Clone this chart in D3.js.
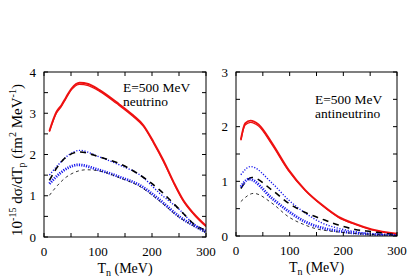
<!DOCTYPE html>
<html><head><meta charset="utf-8">
<script src="https://cdn.jsdelivr.net/npm/d3@7"></script>
<style>body{margin:0;background:#fff}svg text{font-family:"Liberation Serif","DejaVu Serif",serif;fill:#000}</style>
</head><body><svg id="c" width="415" height="278"></svg>
<script>
// ---- data (T in MeV, value in 10^-15 fm^2/MeV) ----
const xTicks = [0, 100, 200, 300];
const yTicksNu = [0, 1, 2, 3, 4];
const yTicksAnu = [0, 1, 2, 3];

const nuRedA = [[10,2.57],[23,3.03],[32,3.19],[41,3.39],[51,3.6],[66,3.74],[82,3.71],[103,3.56],[134,3.27],[165,2.95],[184,2.71],[203,2.30],[221,1.86],[240,1.33],[258,0.89],[277,0.57],[300,0.27]];
const nuRedB = [[10,2.55],[23,3.0],[32,3.16],[41,3.36],[51,3.57],[66,3.70],[82,3.67],[103,3.53],[134,3.24],[165,2.92],[184,2.68],[203,2.27],[221,1.83],[240,1.31],[258,0.87],[277,0.55],[300,0.25]];
const nuBlueThin = [[10,1.5],[30,1.8],[45,1.98],[66,2.1],[103,1.94],[141,1.74],[178,1.50],[215,1.05],[252,0.65],[277,0.32],[300,0.16]];
const nuBlackLong = [[10,1.37],[25,1.7],[41,1.94],[66,2.06],[103,1.94],[141,1.77],[178,1.50],[215,1.13],[240,0.81],[258,0.57],[277,0.32],[300,0.16]];
const nuBlueThick = [[10,1.29],[30,1.55],[45,1.68],[63,1.75],[103,1.62],[141,1.45],[178,1.25],[215,0.89],[252,0.48],[277,0.28],[300,0.12]];
const nuBlackShort = [[10,1.01],[25,1.25],[41,1.45],[79,1.63],[103,1.60],[141,1.43],[178,1.22],[215,0.86],[252,0.46],[277,0.27],[300,0.11]];

const anuRedA = [[9,1.76],[17,2.06],[27,2.11],[42,2.04],[67,1.70],[98,1.21],[129,0.84],[160,0.57],[191,0.35],[222,0.22],[253,0.12],[300,0.04]];
const anuRedB = [[9,1.75],[17,2.03],[27,2.08],[42,2.01],[67,1.67],[98,1.19],[129,0.83],[160,0.56],[191,0.34],[222,0.21],[253,0.11],[300,0.03]];
const anuBlueThin = [[9,1.12],[27,1.27],[67,0.97],[98,0.66],[129,0.42],[160,0.24],[191,0.14],[222,0.08],[300,0.01]];
const anuBlackLong = [[9,0.87],[30,1.07],[67,0.84],[98,0.60],[129,0.43],[160,0.31],[191,0.20],[222,0.12],[253,0.08],[300,0.02]];
const anuBlueThick = [[9,0.90],[24,1.04],[67,0.69],[98,0.45],[129,0.26],[160,0.15],[191,0.09],[300,0.01]];
const anuBlackShort = [[9,0.63],[33,0.78],[67,0.60],[98,0.35],[129,0.20],[160,0.11],[300,0.01]];

const styles = {
  redA: {stroke:"#ee1111", w:1.9, dash:null},
  redB: {stroke:"#ee1111", w:1.2, dash:null},
  blueThin: {stroke:"#1a1aee", w:1.4, dash:"1.2,1.6"},
  blackLong: {stroke:"#000", w:1.6, dash:"6,5"},
  blueThick: {stroke:"#1a1aee", w:2.8, dash:"1.2,1.2"},
  blackShort: {stroke:"#000", w:0.8, dash:"3,3"}
};

const svg = d3.select("#c");

function panel(x0, x1, y0, y1, ymax, yTicks, series, lab1, lab2, labX, labY) {
  const x = d3.scaleLinear().domain([0,300]).range([x0,x1]);
  const y = d3.scaleLinear().domain([0,ymax]).range([y1,y0]);
  const g = svg.append("g");
  const clip = "clip"+x0;
  svg.append("clipPath").attr("id",clip).append("rect").attr("x",x0).attr("y",y0).attr("width",x1-x0).attr("height",y1-y0);
  const line = d3.line().x(d=>x(d[0])).y(d=>y(d[1])).curve(d3.curveMonotoneX);
  const lg = g.append("g").attr("clip-path",`url(#${clip})`);
  series.forEach(([data, st]) => {
    const s = styles[st];
    lg.append("path").attr("d", line(data)).attr("fill","none").attr("stroke",s.stroke)
      .attr("stroke-width",s.w).attr("stroke-dasharray",s.dash);
  });
  g.append("rect").attr("x",x0).attr("y",y0).attr("width",x1-x0).attr("height",y1-y0)
    .attr("fill","none").attr("stroke","#000").attr("stroke-width",1);
  const xt = d3.range(0,301,50), yt = d3.range(0,ymax+0.001,0.5);
  xt.forEach(v => {
    g.append("line").attr("x1",x(v)).attr("x2",x(v)).attr("y1",y1).attr("y2",y1-4).attr("stroke","#000");
    g.append("line").attr("x1",x(v)).attr("x2",x(v)).attr("y1",y0).attr("y2",y0+4).attr("stroke","#000");
  });
  yt.forEach(v => {
    g.append("line").attr("x1",x0).attr("x2",x0+4).attr("y1",y(v)).attr("y2",y(v)).attr("stroke","#000");
    g.append("line").attr("x1",x1).attr("x2",x1-4).attr("y1",y(v)).attr("y2",y(v)).attr("stroke","#000");
  });
  xTicks.forEach(v => g.append("text").attr("x",x(v)).attr("y",y1+19).attr("text-anchor","middle").attr("font-size",13).text(v));
  yTicks.forEach(v => g.append("text").attr("x",x0-8).attr("y",y(v)+4.5).attr("text-anchor","end").attr("font-size",13).text(v));
  const t = g.append("text").attr("x",(x0+x1)/2).attr("y",y1+36).attr("text-anchor","middle").attr("font-size",14);
  t.append("tspan").text("T");
  t.append("tspan").attr("font-size",10).attr("dy",3).text("n");
  t.append("tspan").attr("dy",-3).text(" (MeV)");
  g.append("text").attr("x",labX).attr("y",labY).attr("font-size",13.5).text(lab1);
  g.append("text").attr("x",labX).attr("y",labY+14).attr("font-size",13.5).text(lab2);
}

panel(44, 206, 72, 237, 4, yTicksNu,
  [[nuRedA,"redA"],[nuRedB,"redB"],[nuBlueThin,"blueThin"],[nuBlackLong,"blackLong"],[nuBlueThick,"blueThick"],[nuBlackShort,"blackShort"]],
  "E=500 MeV", "neutrino", 123, 92);
panel(236, 397, 72, 236, 3, yTicksAnu,
  [[anuRedA,"redA"],[anuRedB,"redB"],[anuBlueThin,"blueThin"],[anuBlackLong,"blackLong"],[anuBlueThick,"blueThick"],[anuBlackShort,"blackShort"]],
  "E=500 MeV", "antineutrino", 315, 104);

const yt = svg.append("text").attr("transform","translate(22,160) rotate(-90)").attr("text-anchor","middle").attr("font-size",15);
yt.append("tspan").text("10");
yt.append("tspan").attr("font-size",10).attr("dy",-6).text("-15");
yt.append("tspan").attr("dy",6).text(" dσ/dT");
yt.append("tspan").attr("font-size",10).attr("dy",3).text("p");
yt.append("tspan").attr("dy",-3).text(" (fm");
yt.append("tspan").attr("font-size",10).attr("dy",-6).text("2");
yt.append("tspan").attr("dy",6).text(" MeV");
yt.append("tspan").attr("font-size",10).attr("dy",-6).text("-1");
yt.append("tspan").attr("dy",6).text(")");
</script></body></html>
